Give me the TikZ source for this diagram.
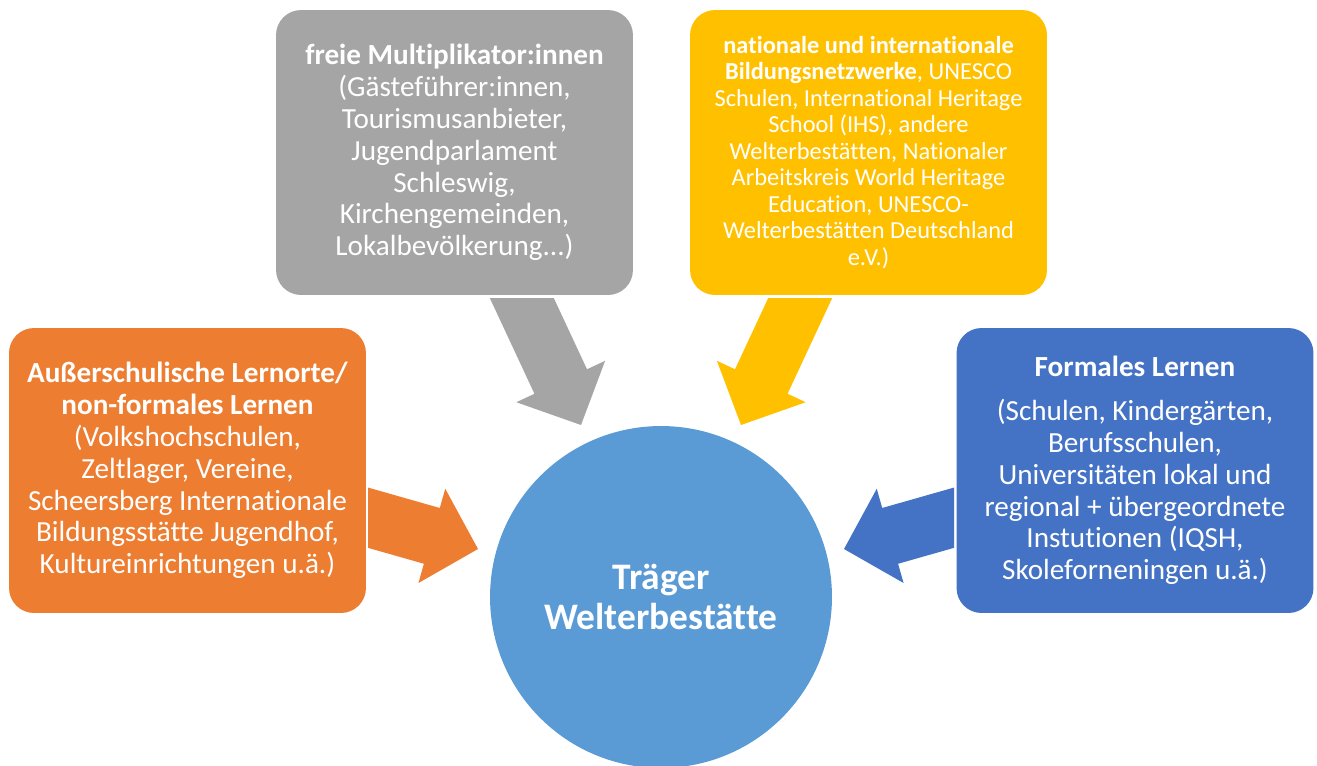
\documentclass[tikz,border=0pt]{standalone}
\usepackage{fontspec}
\setmainfont{Carlito}[Ligatures=NoCommon]
\usetikzlibrary{calc}

\definecolor{boxgray}{HTML}{A5A5A5}
\definecolor{boxyellow}{HTML}{FFC000}
\definecolor{boxorange}{HTML}{ED7D31}
\definecolor{boxblue}{HTML}{4472C4}
\definecolor{hubblue}{HTML}{5B9BD5}

% fat arrow from tail to tip: colour, tail, tip
\newcommand{\blockarrow}[3]{%
  \coordinate (hb) at ($(#3)!0.96cm!(#2)$);
  \fill[#1] ($(#2)!0.58cm!90:(#3)$) -- ($(hb)!0.58cm!90:(#3)$) -- ($(hb)!0.98cm!90:(#3)$) -- (#3)
    -- ($(hb)!0.98cm!-90:(#3)$) -- ($(hb)!0.58cm!-90:(#3)$) -- ($(#2)!0.58cm!-90:(#3)$) -- cycle;
}

\tikzset{
  partner/.style={rounded corners=0.5cm, minimum width=7.14cm, minimum height=5.7cm,
    text=white, align=center, inner sep=0pt, font=\fontsize{16.6}{18.1}\selectfont},
  hub/.style={circle, fill=hubblue, minimum size=6.84cm, inner sep=0pt, text=white,
    align=center, font=\bfseries\fontsize{21.3}{23.2}\selectfont}
}

\begin{document}
\begin{tikzpicture}[x=0.02cm, y=-0.02cm]
  \useasboundingbox (0,0) rectangle (1317,765);

  % Arrow ends
  \coordinate (multitail) at (505,262);
  \coordinate (multitip) at (581,425);
  \coordinate (netztail) at (817,262);
  \coordinate (netztip) at (741,425);
  \coordinate (nonformtail) at (334,508);
  \coordinate (nonformtip) at (478,549);
  \coordinate (formtail) at (988,508);
  \coordinate (formtip) at (844,549);

  % Drawing arrows, cut off just below the boxes
  \begin{scope}
    \clip (368,298) rectangle (954,765);
    \blockarrow{boxgray}{multitail}{multitip}
    \blockarrow{boxyellow}{netztail}{netztip}
    \blockarrow{boxorange}{nonformtail}{nonformtip}
    \blockarrow{boxblue}{formtail}{formtip}
  \end{scope}

  % Centre
  \node[hub] (traeger) at (661,597) {Träger\\Welterbestätte};

  % Partner boxes
  \node[partner, fill=boxgray] (multi) at (454.5,152.5)
    {\textbf{freie Multiplikator:innen}\\(Gästeführer:innen,\\Tourismusanbieter,\\Jugendparlament\\Schleswig,\\Kirchengemeinden,\\Lokalbevölkerung...)};
  \node[partner, fill=boxyellow, font=\fontsize{13.9}{15.1}\selectfont] (netz) at (868.5,152.5)
    {\textbf{nationale und internationale}\\\textbf{Bildungsnetzwerke}, UNESCO\\Schulen, International Heritage\\School (IHS), andere\\Welterbestätten, Nationaler\\Arbeitskreis World Heritage\\Education, UNESCO-\\Welterbestätten Deutschland\\e.V.)};
  \node[partner, fill=boxorange] (nonform) at (187.5,470.5)
    {\textbf{Außerschulische Lernorte/}\\\textbf{non-formales Lernen}\\(Volkshochschulen,\\Zeltlager, Vereine,\\Scheersberg Internationale\\Bildungsstätte Jugendhof,\\Kultureinrichtungen u.ä.)};
  \node[partner, fill=boxblue] (form) at (1135,470.5)
    {\textbf{Formales Lernen}\\[6.8pt](Schulen, Kindergärten,\\Berufsschulen,\\Universitäten lokal und\\regional + übergeordnete\\Instutionen (IQSH,\\Skoleforneningen u.ä.)};
\end{tikzpicture}
\end{document}
